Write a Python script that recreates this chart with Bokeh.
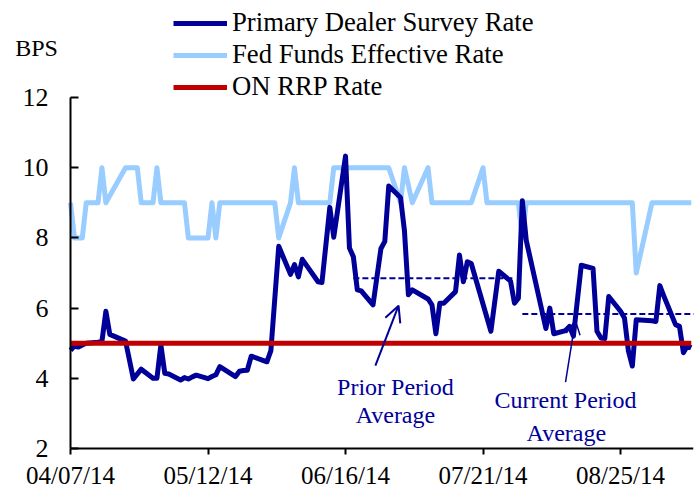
import pandas as pd
from datetime import timedelta
from bokeh.plotting import figure
from bokeh.models import (Range1d, FixedTicker, DatetimeTickFormatter, Label, Arrow,
                          OpenHead, Legend, LegendItem)
from bokeh.embed import file_html
from bokeh.resources import INLINE

# ---------------- data ----------------
pd_dates = ["04/07/14", "04/08/14", "04/09/14", "04/10/14", "04/11/14", "04/14/14", "04/15/14",
            "04/16/14", "04/17/14", "04/21/14", "04/23/14", "04/25/14", "04/28/14", "04/29/14",
            "04/30/14", "05/01/14", "05/02/14", "05/05/14", "05/06/14", "05/07/14", "05/08/14",
            "05/09/14", "05/12/14", "05/13/14", "05/14/14", "05/15/14", "05/19/14", "05/20/14",
            "05/21/14", "05/22/14", "05/23/14", "05/27/14", "05/28/14", "05/30/14", "06/02/14",
            "06/03/14", "06/04/14", "06/05/14", "06/09/14", "06/10/14", "06/12/14", "06/13/14",
            "06/16/14", "06/17/14", "06/18/14", "06/19/14", "06/20/14", "06/23/14", "06/25/14",
            "06/26/14", "06/27/14", "06/30/14", "07/01/14", "07/02/14", "07/03/14", "07/07/14",
            "07/08/14", "07/09/14", "07/10/14", "07/11/14", "07/14/14", "07/15/14", "07/16/14",
            "07/17/14", "07/18/14", "07/23/14", "07/25/14", "07/28/14", "07/29/14", "07/30/14",
            "07/31/14", "08/01/14", "08/06/14", "08/07/14", "08/08/14", "08/11/14", "08/12/14",
            "08/13/14", "08/15/14", "08/18/14", "08/19/14", "08/20/14", "08/21/14", "08/22/14",
            "08/25/14", "08/26/14", "08/27/14", "08/28/14", "08/29/14", "09/02/14", "09/03/14",
            "09/04/14", "09/05/14", "09/08/14", "09/09/14", "09/10/14", "09/11/14", "09/12/14"]
pd_rate = [4.80, 4.92, 4.89, 4.95, 5.00, 5.03, 5.05,
           5.91, 5.25, 5.06, 3.98, 4.26, 4.00, 4.00,
           4.95, 4.14, 4.12, 3.95, 4.02, 3.98, 4.04,
           4.09, 3.99, 4.05, 4.10, 4.33, 4.05, 4.20,
           4.22, 4.23, 4.63, 4.47, 4.79, 7.76, 6.96,
           7.24, 6.89, 7.39, 6.75, 6.73, 8.87, 8.02,
           10.33, 7.71, 7.46, 6.52, 6.49, 6.09, 7.69,
           7.90, 9.48, 9.15, 8.20, 6.38, 6.52, 6.26,
           6.09, 5.27, 6.14, 6.14, 6.47, 7.51, 6.75,
           7.32, 7.27, 5.34, 7.05, 6.77, 6.14, 6.28,
           9.06, 7.93, 5.42, 6.00, 5.27, 5.36, 5.48,
           5.20, 7.22, 7.13, 5.34, 5.15, 5.13, 6.33,
           5.91, 5.72, 4.78, 4.35, 5.67, 5.64, 5.62,
           6.64, 6.35, 5.53, 5.48, 4.73, 4.92, 4.87]

ff_dates = ["04/07/14", "04/08/14", "04/10/14", "04/11/14", "04/14/14", "04/15/14", "04/16/14",
            "04/21/14", "04/24/14", "04/25/14", "04/28/14", "04/29/14", "04/30/14", "05/06/14",
            "05/07/14", "05/12/14", "05/13/14", "05/14/14", "05/15/14", "05/29/14", "05/30/14",
            "06/02/14", "06/03/14", "06/04/14", "06/12/14", "06/13/14", "06/27/14", "06/30/14",
            "07/01/14", "07/03/14", "07/07/14", "07/08/14", "07/18/14", "07/21/14", "07/22/14",
            "07/30/14", "07/31/14", "08/01/14", "08/28/14", "08/29/14", "09/02/14", "09/12/14"]
ff_rate = [9, 8, 8, 9, 9, 10, 9,
           10, 10, 9, 9, 10, 9, 9,
           8, 8, 9, 8, 9, 9, 8,
           9, 10, 9, 9, 10, 10, 9,
           10, 9, 10, 9, 9, 10, 9,
           9, 8, 9, 9, 7, 9, 9]

rrp_dates = ["04/07/14", "09/12/14"]
rrp_rate = [5, 5]

prior_avg_dates = ["06/18/14", "07/29/14"]
prior_avg = [6.85, 6.85]
current_avg_dates = ["07/31/14", "09/13/14"]
current_avg = [5.83, 5.83]

x_tick_dates = ["04/07/14", "05/12/14", "06/16/14", "07/21/14", "08/25/14"]
y_ticks = [2, 4, 6, 8, 10, 12]

legend_labels = ["Primary Dealer Survey Rate", "Fed Funds Effective Rate", "ON RRP Rate"]

# ---------------- style ----------------
DARK = "#000099"
LIGHT = "#99CCFF"
RED = "#C00000"
FONT = "Liberation Serif"


def d(s):
    return pd.to_datetime(s, format="%m/%d/%y")


def dl(lst):
    return [d(s) for s in lst]


def ms(t):
    return t.timestamp() * 1000.0


x0 = d(x_tick_dates[0])
x_end = x0 + timedelta(days=158.57)

# frame covers the whole canvas so that legend, "BPS" and tick labels are not clipped;
# the axes themselves are pinned and bounded to the data area.
p = figure(width=698, height=492, x_axis_type="datetime",
           x_range=Range1d(x0 - timedelta(days=17.82), x_end),
           y_range=Range1d(0.746, 14.764),
           output_backend="svg", toolbar_location=None,
           min_border_left=0, min_border_right=5, min_border_top=0, min_border_bottom=0)
p.outline_line_color = None
p.grid.visible = False
p.background_fill_color = "white"
p.border_fill_color = "white"

r_ff = p.line(dl(ff_dates), ff_rate, line_color=LIGHT, line_width=5, line_join="round")
r_pd = p.line(dl(pd_dates), pd_rate, line_color=DARK, line_width=5, line_join="round")
r_rrp = p.line(dl(rrp_dates), rrp_rate, line_color=RED, line_width=5)

p.line(dl(prior_avg_dates), prior_avg, line_color=DARK, line_width=2, line_dash="6 3")
p.line(dl(current_avg_dates), current_avg, line_color=DARK, line_width=2, line_dash="6 3")

# arrows (annotation pointers)
p.add_layout(Arrow(end=OpenHead(size=16, line_color=DARK, line_width=2),
                   x_start=x0 + timedelta(days=77.6), y_start=4.36,
                   x_end=x0 + timedelta(days=83.5), y_end=6.07,
                   line_color=DARK, line_width=2))
p.add_layout(Arrow(end=OpenHead(size=14, line_color=DARK, line_width=1.5),
                   x_start=x0 + timedelta(days=126.0), y_start=3.89,
                   x_end=x0 + timedelta(days=128.5), y_end=5.65,
                   line_color=DARK, line_width=1.5))

for txt, dd, yy in [("Prior Period", 82.7, 3.74), ("Average", 82.7, 2.95),
                    ("Current Period", 126.0, 3.37), ("Average", 126.2, 2.45)]:
    p.add_layout(Label(x=x0 + timedelta(days=dd), y=yy, text=txt, text_align="center",
                       text_baseline="alphabetic", text_font=FONT, text_font_size="24px",
                       text_color=DARK))

p.add_layout(Label(x=x0 - timedelta(days=8.65), y=13.4, text="BPS", text_align="center",
                   text_baseline="alphabetic", text_font=FONT, text_font_size="24px",
                   text_color="black"))

# axes
p.xaxis.ticker = FixedTicker(ticks=[ms(d(s)) for s in x_tick_dates], minor_ticks=[])
fmt = "%m/%d/%y"
p.xaxis.formatter = DatetimeTickFormatter(milliseconds=fmt, seconds=fmt, minsec=fmt, minutes=fmt,
                                          hourmin=fmt, hours=fmt, days=fmt, months=fmt, years=fmt)
p.xaxis.bounds = (ms(x0), ms(x_end))
p.xaxis.fixed_location = y_ticks[0]
p.yaxis.ticker = FixedTicker(ticks=y_ticks, minor_ticks=[])
p.yaxis.bounds = (y_ticks[0], y_ticks[-1])
p.yaxis.fixed_location = ms(x0)
for ax in (p.xaxis, p.yaxis):
    ax.axis_line_color = "black"
    ax.axis_line_width = 2
    ax.major_tick_line_color = "black"
    ax.major_tick_line_width = 2
    ax.minor_tick_line_color = None
    ax.major_label_text_font = FONT
    ax.major_label_text_color = "black"
p.xaxis.major_label_text_font_size = "25px"
p.yaxis.major_label_text_font_size = "26px"
p.xaxis.major_tick_in = 0
p.xaxis.major_tick_out = 6
p.xaxis.major_label_standoff = 8
p.yaxis.major_tick_in = 8
p.yaxis.major_tick_out = 0
p.yaxis.major_label_standoff = 22

legend = Legend(items=[LegendItem(label=legend_labels[0], renderers=[r_pd]),
                       LegendItem(label=legend_labels[1], renderers=[r_ff]),
                       LegendItem(label=legend_labels[2], renderers=[r_rrp])],
                location=(173, 390), orientation="vertical",
                glyph_width=54, glyph_height=30, label_height=30, label_standoff=5,
                spacing=1, padding=0, margin=0,
                label_text_font=FONT, label_text_font_size="26.7px", label_text_color="black",
                border_line_color=None, background_fill_alpha=0)
p.add_layout(legend, "center")

open("out.html", "w").write(file_html(p, INLINE))
